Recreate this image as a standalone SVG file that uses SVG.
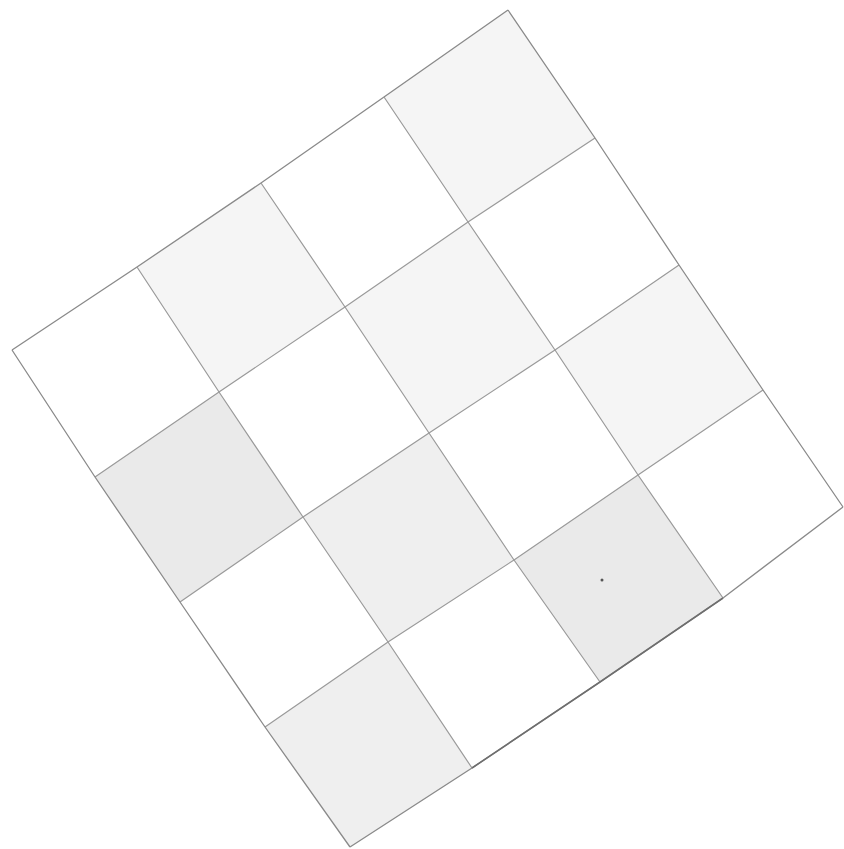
<svg xmlns="http://www.w3.org/2000/svg" width="844" height="849" viewBox="0 0 844 849">
<style>
.bg{fill:#ffffff}
.shade{stroke:none}
.s1{fill:#f5f5f5}
.s2{fill:#efefef}
.s3{fill:#eaeaea}
.line{fill:none;stroke:#9a9a9a;stroke-width:1.2;stroke-linejoin:round}
.edge{fill:none;stroke:#8a8a8a;stroke-width:1.3;stroke-linejoin:round}
.dark{fill:none;stroke:#6e6e6e;stroke-width:1.6}
</style>
<rect class="bg" x="0" y="0" width="844" height="849"/>
<g id="shaded-cells">
  <polygon id="cell-1-0" class="shade s1" points="137,267 261,183 345,307 219,392"/>
  <polygon id="cell-3-0" class="shade s1" points="384,97 508,10 595,138 468,222"/>
  <polygon id="cell-0-1" class="shade s3" points="95,477 219,392 303,517 180,602"/>
  <polygon id="cell-2-1" class="shade s1" points="345,307 468,222 555,350 429,433"/>
  <polygon id="cell-1-2" class="shade s2" points="303,517 429,433 514,560 388,642"/>
  <polygon id="cell-3-2" class="shade s1" points="555,350 679,265 763,390 638,475"/>
  <polygon id="cell-0-3" class="shade s2" points="265,727 388,642 472,768 350,847"/>
  <polygon id="cell-2-3" class="shade s3" points="514,560 638,475 723,598 600,682"/>
</g>
<g id="grid-lines">
  <polyline class="edge" points="12,350 137,267 261,183 384,97 508,10"/>
  <polyline class="line" points="95,477 219,392 345,307 468,222 595,138"/>
  <polyline class="line" points="180,602 303,517 429,433 555,350 679,265"/>
  <polyline class="line" points="265,727 388,642 514,560 638,475 763,390"/>
  <polyline class="edge" points="350,847 472,768 600,682 723,598 843,507"/>
  <polyline class="edge" points="12,350 95,477 180,602 265,727 350,847"/>
  <polyline class="line" points="137,267 219,392 303,517 388,642 472,768"/>
  <polyline class="line" points="261,183 345,307 429,433 514,560 600,682"/>
  <polyline class="line" points="384,97 468,222 555,350 638,475 723,598"/>
  <polyline class="edge" points="508,10 595,138 679,265 763,390 843,507"/>
  <polyline class="dark" points="472,768 600,682 723,598"/>
</g>
<circle cx="602" cy="580" r="1.5" fill="#555"/>
</svg>
